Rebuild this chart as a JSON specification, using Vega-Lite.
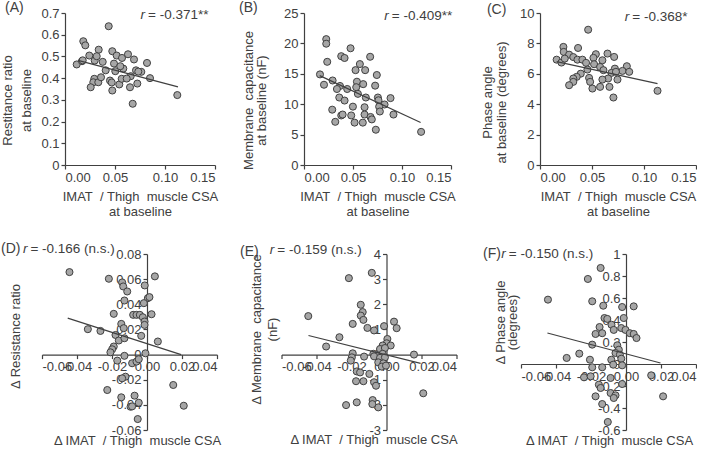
{
"$schema": "https://vega.github.io/schema/vega-lite/v6.json",
"padding": {"left": 1, "top": 1, "right": 0, "bottom": 0},
"columns": 1,
"spacing": 23,
"config": {
  "view": {"stroke": null},
  "font": "Liberation Sans",
  "axis": {"grid": false, "domain": true, "ticks": true, "domainColor": "#404040", "domainWidth": 1.2, "tickColor": "#404040", "tickWidth": 1.2, "tickSize": 4, "labelColor": "#404040", "labelFont": "Liberation Sans", "labelFontSize": 13, "labelPadding": 2, "titleColor": "#404040", "titleFont": "Liberation Sans", "titleFontSize": 13, "titleFontWeight": "normal", "labelOverlap": false, "labelSeparation": -40, "titlePadding": 6},
  "text": {"font": "Liberation Sans", "color": "#404040"}
},
"datasets": {
  "A": [{"x":0.0437,"y":0.639},{"x":0.0183,"y":0.570},{"x":0.0203,"y":0.551},{"x":0.0117,"y":0.463},{"x":0.017,"y":0.478},{"x":0.0177,"y":0.482},{"x":0.0243,"y":0.504},{"x":0.0297,"y":0.481},{"x":0.0337,"y":0.531},{"x":0.0317,"y":0.501},{"x":0.0377,"y":0.475},{"x":0.0473,"y":0.524},{"x":0.0517,"y":0.504},{"x":0.057,"y":0.493},{"x":0.063,"y":0.51},{"x":0.069,"y":0.486},{"x":0.082,"y":0.47},{"x":0.049,"y":0.467},{"x":0.0407,"y":0.436},{"x":0.0503,"y":0.432},{"x":0.0583,"y":0.444},{"x":0.0657,"y":0.409},{"x":0.071,"y":0.436},{"x":0.0763,"y":0.429},{"x":0.085,"y":0.4},{"x":0.0293,"y":0.397},{"x":0.0283,"y":0.381},{"x":0.0333,"y":0.381},{"x":0.036,"y":0.404},{"x":0.0257,"y":0.358},{"x":0.045,"y":0.389},{"x":0.0473,"y":0.343},{"x":0.0543,"y":0.371},{"x":0.0567,"y":0.397},{"x":0.065,"y":0.358},{"x":0.0723,"y":0.375},{"x":0.0677,"y":0.282},{"x":0.1123,"y":0.322},{"x":0.0617,"y":0.398},{"x":0.0467,"y":0.38},{"x":0.0733,"y":0.43},{"x":0.0553,"y":0.455}],
  "A_fit": [{"x":0.013,"y":0.482},{"x":0.113,"y":0.36}],
  "B": [{"x":0.0227,"y":20.7},{"x":0.0227,"y":19.95},{"x":0.0475,"y":19.2},{"x":0.038,"y":17.9},{"x":0.0414,"y":17.6},{"x":0.0675,"y":17.8},{"x":0.0237,"y":16.97},{"x":0.057,"y":16.6},{"x":0.0526,"y":15.6},{"x":0.0624,"y":15.6},{"x":0.0743,"y":14.8},{"x":0.0163,"y":14.9},{"x":0.0204,"y":13.2},{"x":0.0292,"y":13.9},{"x":0.0367,"y":13.0},{"x":0.0336,"y":12.5},{"x":0.0441,"y":12.5},{"x":0.054,"y":13.7},{"x":0.0533,"y":12.8},{"x":0.0604,"y":13.3},{"x":0.0726,"y":13.05},{"x":0.055,"y":11.7},{"x":0.036,"y":11.1},{"x":0.0414,"y":10.6},{"x":0.0631,"y":11.1},{"x":0.0754,"y":11.1},{"x":0.076,"y":10.65},{"x":0.0883,"y":11.0},{"x":0.0822,"y":9.95},{"x":0.0767,"y":9.6},{"x":0.0499,"y":9.6},{"x":0.0618,"y":9.5},{"x":0.0774,"y":8.8},{"x":0.0288,"y":9.1},{"x":0.038,"y":8.15},{"x":0.0394,"y":8.3},{"x":0.0482,"y":8.15},{"x":0.0618,"y":8.3},{"x":0.0679,"y":7.9},{"x":0.0692,"y":7.5},{"x":0.0913,"y":8.3},{"x":0.0319,"y":7.1},{"x":0.0516,"y":6.97},{"x":0.06,"y":6.97},{"x":0.0733,"y":5.8},{"x":0.1195,"y":5.45}],
  "B_fit": [{"x":0.016,"y":14.7},{"x":0.119,"y":7.0}],
  "C": [{"x":0.0463,"y":8.9},{"x":0.0225,"y":7.77},{"x":0.0366,"y":7.7},{"x":0.0228,"y":7.44},{"x":0.028,"y":7.26},{"x":0.016,"y":6.93},{"x":0.0206,"y":6.74},{"x":0.0238,"y":7.0},{"x":0.032,"y":7.1},{"x":0.036,"y":6.93},{"x":0.0408,"y":6.93},{"x":0.0443,"y":6.72},{"x":0.0537,"y":7.29},{"x":0.0514,"y":7.05},{"x":0.0649,"y":7.33},{"x":0.0713,"y":7.11},{"x":0.06,"y":6.89},{"x":0.052,"y":6.63},{"x":0.0578,"y":6.45},{"x":0.061,"y":6.24},{"x":0.0456,"y":6.28},{"x":0.072,"y":6.34},{"x":0.0835,"y":6.5},{"x":0.0793,"y":6.19},{"x":0.0858,"y":6.13},{"x":0.0687,"y":6.06},{"x":0.073,"y":6.13},{"x":0.0392,"y":6.01},{"x":0.0353,"y":5.8},{"x":0.032,"y":5.69},{"x":0.0472,"y":5.73},{"x":0.0655,"y":5.69},{"x":0.06,"y":5.62},{"x":0.0745,"y":5.62},{"x":0.0482,"y":5.47},{"x":0.032,"y":5.47},{"x":0.028,"y":5.25},{"x":0.0578,"y":5.14},{"x":0.0668,"y":5.14},{"x":0.0504,"y":5.03},{"x":0.0706,"y":4.44},{"x":0.113,"y":4.88}],
  "C_fit": [{"x":0.016,"y":6.8},{"x":0.113,"y":5.35}],
  "D": [{"x":-0.0443,"y":0.0656},{"x":-0.0218,"y":0.0603},{"x":-0.0142,"y":0.0574},{"x":-0.0136,"y":0.0542},{"x":-0.0113,"y":0.0502},{"x":0.0045,"y":0.0622},{"x":-0.0013,"y":0.055},{"x":-0.0129,"y":0.043},{"x":0.0005,"y":0.0449},{"x":0.0014,"y":0.0457},{"x":-0.0018,"y":0.0409},{"x":-0.019,"y":0.0324},{"x":-0.0079,"y":0.0316},{"x":-0.006,"y":0.0316},{"x":-0.0041,"y":0.0316},{"x":-0.0024,"y":0.0297},{"x":0.0026,"y":0.0321},{"x":-0.0014,"y":0.0263},{"x":-0.0014,"y":0.0236},{"x":-0.0147,"y":0.0244},{"x":-0.0338,"y":0.0202},{"x":-0.0266,"y":0.0188},{"x":-0.0133,"y":0.021},{"x":-0.018,"y":0.0156},{"x":-0.0161,"y":0.0112},{"x":-0.0129,"y":0.013},{"x":-0.0033,"y":0.0149},{"x":0.0062,"y":0.0104},{"x":-0.019,"y":0.0064},{"x":-0.0199,"y":0.0042},{"x":-0.0209,"y":0.0018},{"x":-0.0129,"y":-0.001},{"x":-0.0009,"y":0.001},{"x":-0.017,"y":-0.0048},{"x":-0.0085,"y":-0.0069},{"x":-0.006,"y":-0.0056},{"x":-0.0047,"y":-0.0037},{"x":-0.0123,"y":-0.0176},{"x":-0.0142,"y":-0.0189},{"x":-0.0227,"y":-0.0282},{"x":0.015,"y":-0.0242},{"x":-0.0147,"y":-0.034},{"x":-0.0071,"y":-0.0327},{"x":-0.0094,"y":-0.0415},{"x":-0.0047,"y":-0.0383},{"x":0.021,"y":-0.0407},{"x":-0.0053,"y":-0.0513},{"x":-0.0085,"y":-0.0412}],
  "D_fit": [{"x":-0.0453,"y":0.029},{"x":0.0195,"y":0.0}],
  "E": [{"x":-0.0084,"y":3.25},{"x":-0.0215,"y":3.04},{"x":-0.0147,"y":1.98},{"x":-0.0136,"y":1.69},{"x":-0.0147,"y":1.55},{"x":-0.0132,"y":1.38},{"x":-0.0447,"y":1.53},{"x":-0.0193,"y":1.22},{"x":-0.0109,"y":1.06},{"x":-0.0071,"y":0.96},{"x":-0.0014,"y":1.13},{"x":0.0043,"y":1.31},{"x":0.0058,"y":1.05},{"x":-0.0269,"y":0.69},{"x":-0.0345,"y":0.32},{"x":0.0005,"y":0.62},{"x":0.0001,"y":0.45},{"x":0.0024,"y":0.36},{"x":-0.0022,"y":0.36},{"x":-0.0037,"y":0.22},{"x":-0.0009,"y":0.26},{"x":-0.0193,"y":0.05},{"x":-0.0075,"y":0.03},{"x":-0.0052,"y":-0.04},{"x":-0.0022,"y":0.03},{"x":-0.0071,"y":-0.07},{"x":-0.0037,"y":-0.13},{"x":-0.0009,"y":-0.11},{"x":-0.0198,"y":-0.11},{"x":-0.0204,"y":-0.24},{"x":-0.0128,"y":-0.08},{"x":0.0157,"y":0.0},{"x":-0.0047,"y":-0.31},{"x":-0.0018,"y":-0.35},{"x":-0.0027,"y":-0.48},{"x":-0.0003,"y":-0.44},{"x":-0.017,"y":-0.67},{"x":-0.0151,"y":-0.71},{"x":-0.0098,"y":-0.77},{"x":-0.0174,"y":-1.06},{"x":-0.0132,"y":-1.06},{"x":-0.0071,"y":-1.1},{"x":-0.006,"y":-1.24},{"x":0.021,"y":-1.54},{"x":-0.0079,"y":-1.81},{"x":-0.017,"y":-1.9},{"x":-0.0231,"y":-2.01},{"x":-0.0047,"y":-2.1},{"x":-0.0081,"y":-1.97}],
  "E_fit": [{"x":-0.0446,"y":0.76},{"x":0.0195,"y":-0.35}],
  "F": [{"x":-0.0145,"y":0.873},{"x":-0.0218,"y":0.773},{"x":-0.0446,"y":0.585},{"x":-0.0193,"y":0.57},{"x":-0.013,"y":0.53},{"x":-0.0022,"y":0.518},{"x":0.0044,"y":0.524},{"x":-0.0123,"y":0.418},{"x":-0.0107,"y":0.41},{"x":-0.0013,"y":0.418},{"x":-0.0083,"y":0.357},{"x":-0.0151,"y":0.336},{"x":-0.007,"y":0.31},{"x":-0.0027,"y":0.327},{"x":-0.0003,"y":0.31},{"x":0.0022,"y":0.28},{"x":0.0044,"y":0.273},{"x":0.006,"y":0.236},{"x":-0.0174,"y":0.273},{"x":-0.0136,"y":0.28},{"x":-0.0193,"y":0.176},{"x":-0.005,"y":0.17},{"x":-0.0041,"y":0.13},{"x":-0.006,"y":0.1},{"x":-0.0035,"y":0.085},{"x":-0.0267,"y":0.094},{"x":-0.0339,"y":0.055},{"x":-0.0206,"y":0.039},{"x":-0.0084,"y":0.039},{"x":-0.0027,"y":0.048},{"x":-0.0022,"y":-0.012},{"x":-0.0193,"y":-0.03},{"x":-0.0136,"y":-0.03},{"x":-0.0073,"y":-0.006},{"x":-0.024,"y":-0.121},{"x":-0.0202,"y":-0.112},{"x":-0.0155,"y":-0.188},{"x":-0.0145,"y":-0.218},{"x":-0.0088,"y":-0.127},{"x":-0.0022,"y":-0.182},{"x":0.0144,"y":-0.103},{"x":-0.0174,"y":-0.294},{"x":-0.0088,"y":-0.264},{"x":-0.006,"y":-0.285},{"x":-0.007,"y":-0.309},{"x":0.0212,"y":-0.294},{"x":-0.0136,"y":-0.364},{"x":-0.0104,"y":-0.527}],
  "F_fit": [{"x":-0.0449,"y":0.282},{"x":0.0197,"y":0.009}]
},
"concat": [
{
  "hconcat": [
  {"width": 1, "height": 1, "data": {"values": []}, "mark": "point", "encoding": {}},
  {
  "hconcat": [
  {
    "width": 150, "height": 152,
    "resolve": {"axis": {"x": "independent", "y": "independent"}},
    "layer": [
      {"data": {"name": "A"}, "mark": {"type": "circle", "size": 50, "fill": "#a6a6a6", "stroke": "#404040", "strokeWidth": 1, "opacity": 1},
       "encoding": {
         "x": {"field": "x", "type": "quantitative", "scale": {"domain": [0, 0.15], "nice": false}, "axis": {"values": [0, 0.05, 0.1, 0.15], "format": ".2f", "labelOverlap": false, "title": ["IMAT\u00a0 / Thigh\u00a0 muscle CSA", "at baseline"], "titleLineHeight": 15}},
         "y": {"field": "y", "type": "quantitative", "scale": {"domain": [0, 0.7], "nice": false}, "axis": {"values": [0, 0.1, 0.2, 0.3, 0.4, 0.5, 0.6, 0.7], "format": "~g", "labelOverlap": false, "title": ["Restitance ratio", "at baseline"], "titleLineHeight": 19, "titleX": -51, "titleY": 87}}
       }},
      {"data": {"name": "A_fit"}, "mark": {"type": "line", "color": "#404040", "strokeWidth": 1.2},
       "encoding": {"x": {"field": "x", "type": "quantitative", "axis": null}, "y": {"field": "y", "type": "quantitative", "axis": null}}},
      {"data": {"values": [{}]}, "mark": {"type": "text", "align": "left", "baseline": "middle", "fontSize": 13.5},
       "encoding": {"x": {"datum": 0.083, "axis": null}, "y": {"datum": 0.692, "axis": null}, "text": {"value": "= -0.371**"}}},
      {"data": {"values": [{}]}, "mark": {"type": "text", "align": "right", "baseline": "middle", "fontSize": 13.5, "fontStyle": "italic", "dx": -3},
       "encoding": {"x": {"datum": 0.083, "axis": null}, "y": {"datum": 0.692, "axis": null}, "text": {"value": "r"}}},
      {"data": {"values": [{}]}, "mark": {"type": "text", "align": "left", "baseline": "middle", "fontSize": 14},
       "encoding": {"x": {"datum": -0.06, "axis": null}, "y": {"datum": 0.723, "axis": null}, "text": {"value": "(A)"}}}
    ]
  },
  {
    "width": 147, "height": 152,
    "resolve": {"axis": {"x": "independent", "y": "independent"}},
    "layer": [
      {"data": {"name": "B"}, "mark": {"type": "circle", "size": 50, "fill": "#a6a6a6", "stroke": "#404040", "strokeWidth": 1, "opacity": 1},
       "encoding": {
         "x": {"field": "x", "type": "quantitative", "scale": {"domain": [0, 0.15], "nice": false}, "axis": {"values": [0, 0.05, 0.1, 0.15], "format": ".2f", "labelOverlap": false, "title": ["IMAT\u00a0 / Thigh\u00a0 muscle CSA", "at baseline"], "titleLineHeight": 15}},
         "y": {"field": "y", "type": "quantitative", "scale": {"domain": [0, 25], "nice": false}, "axis": {"values": [0, 5, 10, 15, 20, 25], "labelOverlap": false, "title": ["Membrane\u00a0 capacitance", "at baseline (nF)"], "titleLineHeight": 13, "titleX": -49, "titleY": 87}}
       }},
      {"data": {"name": "B_fit"}, "mark": {"type": "line", "color": "#404040", "strokeWidth": 1.2},
       "encoding": {"x": {"field": "x", "type": "quantitative", "axis": null}, "y": {"field": "y", "type": "quantitative", "axis": null}}},
      {"data": {"values": [{}]}, "mark": {"type": "text", "align": "left", "baseline": "middle", "fontSize": 13.5},
       "encoding": {"x": {"datum": 0.0896, "axis": null}, "y": {"datum": 24.5, "axis": null}, "text": {"value": "= -0.409**"}}},
      {"data": {"values": [{}]}, "mark": {"type": "text", "align": "right", "baseline": "middle", "fontSize": 13.5, "fontStyle": "italic", "dx": -3},
       "encoding": {"x": {"datum": 0.0896, "axis": null}, "y": {"datum": 24.5, "axis": null}, "text": {"value": "r"}}},
      {"data": {"values": [{}]}, "mark": {"type": "text", "align": "left", "baseline": "middle", "fontSize": 14},
       "encoding": {"x": {"datum": -0.0663, "axis": null}, "y": {"datum": 25.8, "axis": null}, "text": {"value": "(B)"}}}
    ]
  },
  {
    "width": 156, "height": 152,
    "resolve": {"axis": {"x": "independent", "y": "independent"}},
    "layer": [
      {"data": {"name": "C"}, "mark": {"type": "circle", "size": 50, "fill": "#a6a6a6", "stroke": "#404040", "strokeWidth": 1, "opacity": 1},
       "encoding": {
         "x": {"field": "x", "type": "quantitative", "scale": {"domain": [0, 0.15], "nice": false}, "axis": {"values": [0, 0.05, 0.1, 0.15], "format": ".2f", "labelOverlap": false, "title": ["IMAT\u00a0 / Thigh\u00a0 muscle CSA", "at baseline"], "titleLineHeight": 15}},
         "y": {"field": "y", "type": "quantitative", "scale": {"domain": [0, 10], "nice": false}, "axis": {"values": [0, 2, 4, 6, 8, 10], "labelOverlap": false, "title": ["Phase angle", "at baseline (degrees)"], "titleLineHeight": 14, "titleX": -46, "titleY": 89}}
       }},
      {"data": {"name": "C_fit"}, "mark": {"type": "line", "color": "#404040", "strokeWidth": 1.2},
       "encoding": {"x": {"field": "x", "type": "quantitative", "axis": null}, "y": {"field": "y", "type": "quantitative", "axis": null}}},
      {"data": {"values": [{}]}, "mark": {"type": "text", "align": "left", "baseline": "middle", "fontSize": 13.5},
       "encoding": {"x": {"datum": 0.0887, "axis": null}, "y": {"datum": 9.74, "axis": null}, "text": {"value": "= -0.368*"}}},
      {"data": {"values": [{}]}, "mark": {"type": "text", "align": "right", "baseline": "middle", "fontSize": 13.5, "fontStyle": "italic", "dx": -3},
       "encoding": {"x": {"datum": 0.0887, "axis": null}, "y": {"datum": 9.74, "axis": null}, "text": {"value": "r"}}},
      {"data": {"values": [{}]}, "mark": {"type": "text", "align": "left", "baseline": "middle", "fontSize": 14},
       "encoding": {"x": {"datum": -0.051, "axis": null}, "y": {"datum": 10.2, "axis": null}, "text": {"value": "(C)"}}}
    ]
  }
  ],
  "spacing": 89, "bounds": "flush"
  }
  ],
  "spacing": 22, "bounds": "flush"
},
{
  "hconcat": [
  {
    "width": 175, "height": 176,
    "resolve": {"axis": {"x": "independent", "y": "independent"}},
    "layer": [
      {"data": {"name": "D"}, "mark": {"type": "circle", "size": 50, "fill": "#a6a6a6", "stroke": "#404040", "strokeWidth": 1, "opacity": 1},
       "encoding": {
         "x": {"field": "x", "type": "quantitative", "scale": {"domain": [-0.06, 0.04], "nice": false}, "axis": {"values": [-0.06, -0.04, -0.02, 0, 0.02, 0.04], "labelOverlap": false, "labelExpr": "replace(format(datum.value, '.2f'), '−', '-')", "offset": -75.4, "title": "Δ IMAT\u00a0 / Thigh\u00a0 muscle CSA", "titleY": 80, "titleX": 95}},
         "y": {"field": "y", "type": "quantitative", "scale": {"domain": [-0.06, 0.08], "nice": false}, "axis": {"values": [-0.06, -0.04, -0.02, 0, 0.02, 0.04, 0.06, 0.08], "labelOverlap": false, "labelExpr": "datum.value == 0 ? '0' : replace(format(datum.value, '.2f'), '−', '-')", "offset": -105, "title": "Δ Resistance ratio", "titleX": -125, "titleY": 82}}
       }},
      {"data": {"name": "D_fit"}, "mark": {"type": "line", "color": "#404040", "strokeWidth": 1.2},
       "encoding": {"x": {"field": "x", "type": "quantitative", "axis": null}, "y": {"field": "y", "type": "quantitative", "axis": null}}},
      {"data": {"values": [{}]}, "mark": {"type": "text", "align": "left", "baseline": "middle", "fontSize": 13.5},
       "encoding": {"x": {"datum": -0.0666, "axis": null}, "y": {"datum": 0.084, "axis": null}, "text": {"value": "= -0.166 (n.s.)"}}},
      {"data": {"values": [{}]}, "mark": {"type": "text", "align": "right", "baseline": "middle", "fontSize": 13.5, "fontStyle": "italic", "dx": -3},
       "encoding": {"x": {"datum": -0.0666, "axis": null}, "y": {"datum": 0.084, "axis": null}, "text": {"value": "r"}}},
      {"data": {"values": [{}]}, "mark": {"type": "text", "align": "left", "baseline": "middle", "fontSize": 14},
       "encoding": {"x": {"datum": -0.0834, "axis": null}, "y": {"datum": 0.084, "axis": null}, "text": {"value": "(D)"}}}
    ]
  },
  {
    "width": 175, "height": 176,
    "resolve": {"axis": {"x": "independent", "y": "independent"}},
    "layer": [
      {"data": {"name": "E"}, "mark": {"type": "circle", "size": 50, "fill": "#a6a6a6", "stroke": "#404040", "strokeWidth": 1, "opacity": 1},
       "encoding": {
         "x": {"field": "x", "type": "quantitative", "scale": {"domain": [-0.06, 0.04], "nice": false}, "axis": {"values": [-0.06, -0.04, -0.02, 0, 0.02, 0.04], "labelOverlap": false, "labelExpr": "replace(format(datum.value, '.2f'), '−', '-')", "offset": -75.4, "title": "Δ IMAT\u00a0 / Thigh\u00a0 muscle CSA", "titleY": 79, "titleX": 92}},
         "y": {"field": "y", "type": "quantitative", "scale": {"domain": [-3, 4], "nice": false}, "axis": {"values": [-3, -2, -1, 0, 1, 2, 3, 4], "labelOverlap": false, "labelExpr": "replace(format(datum.value, 'd'), '−', '-')", "offset": -105, "title": ["Δ Membrane\u00a0 capacitance", "(nF)"], "titleLineHeight": 16, "titleX": -123, "titleY": 75}}
       }},
      {"data": {"name": "E_fit"}, "mark": {"type": "line", "color": "#404040", "strokeWidth": 1.2},
       "encoding": {"x": {"field": "x", "type": "quantitative", "axis": null}, "y": {"field": "y", "type": "quantitative", "axis": null}}},
      {"data": {"values": [{}]}, "mark": {"type": "text", "align": "left", "baseline": "middle", "fontSize": 13.5},
       "encoding": {"x": {"datum": -0.0624, "axis": null}, "y": {"datum": 4.16, "axis": null}, "text": {"value": "= -0.159 (n.s.)"}}},
      {"data": {"values": [{}]}, "mark": {"type": "text", "align": "right", "baseline": "middle", "fontSize": 13.5, "fontStyle": "italic", "dx": -3},
       "encoding": {"x": {"datum": -0.0624, "axis": null}, "y": {"datum": 4.16, "axis": null}, "text": {"value": "r"}}},
      {"data": {"values": [{}]}, "mark": {"type": "text", "align": "left", "baseline": "middle", "fontSize": 14},
       "encoding": {"x": {"datum": -0.0837, "axis": null}, "y": {"datum": 4.08, "axis": null}, "text": {"value": "(E)"}}}
    ]
  },
  {
    "width": 175, "height": 176,
    "resolve": {"axis": {"x": "independent", "y": "independent"}},
    "layer": [
      {"data": {"name": "F"}, "mark": {"type": "circle", "size": 50, "fill": "#a6a6a6", "stroke": "#404040", "strokeWidth": 1, "opacity": 1},
       "encoding": {
         "x": {"field": "x", "type": "quantitative", "scale": {"domain": [-0.06, 0.04], "nice": false}, "axis": {"values": [-0.06, -0.04, -0.02, 0, 0.02, 0.04], "labelOverlap": false, "labelExpr": "replace(format(datum.value, '.2f'), '−', '-')", "offset": -66, "title": "Δ IMAT\u00a0 / Thigh\u00a0 muscle CSA", "titleY": 70, "titleX": 88}},
         "y": {"field": "y", "type": "quantitative", "scale": {"domain": [-0.6, 1], "nice": false}, "axis": {"values": [-0.6, -0.4, -0.2, 0, 0.2, 0.4, 0.6, 0.8, 1], "labelOverlap": false, "labelExpr": "replace(format(datum.value, '~g'), '−', '-')", "offset": -105, "title": ["Δ Phase angle", "(degrees)"], "titleLineHeight": 12, "titleX": -119, "titleY": 68}}
       }},
      {"data": {"name": "F_fit"}, "mark": {"type": "line", "color": "#404040", "strokeWidth": 1.2},
       "encoding": {"x": {"field": "x", "type": "quantitative", "axis": null}, "y": {"field": "y", "type": "quantitative", "axis": null}}},
      {"data": {"values": [{}]}, "mark": {"type": "text", "align": "left", "baseline": "middle", "fontSize": 13.5},
       "encoding": {"x": {"datum": -0.067, "axis": null}, "y": {"datum": 1.0, "axis": null}, "text": {"value": "= -0.150 (n.s.)"}}},
      {"data": {"values": [{}]}, "mark": {"type": "text", "align": "right", "baseline": "middle", "fontSize": 13.5, "fontStyle": "italic", "dx": -3},
       "encoding": {"x": {"datum": -0.067, "axis": null}, "y": {"datum": 1.0, "axis": null}, "text": {"value": "r"}}},
      {"data": {"values": [{}]}, "mark": {"type": "text", "align": "left", "baseline": "middle", "fontSize": 14},
       "encoding": {"x": {"datum": -0.0817, "axis": null}, "y": {"datum": 1.0, "axis": null}, "text": {"value": "(F)"}}}
    ]
  }
  ],
  "spacing": 64.5, "bounds": "flush"
}
]
}
